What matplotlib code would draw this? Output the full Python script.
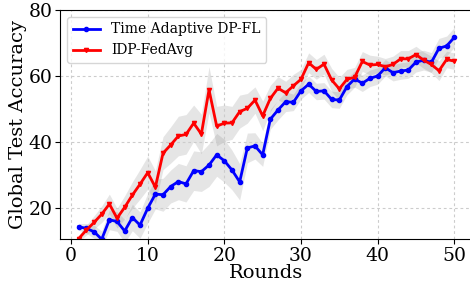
import numpy as np
import matplotlib
matplotlib.use("Agg")
import matplotlib.pyplot as plt

rounds = list(range(1, 51))

ta_dpfl = [14.3, 13.8, 12.8, 10.5, 16.4, 15.9, 13.0, 17.1, 14.8, 19.9,
           24.2, 24.0, 26.5, 28.0, 27.3, 31.3, 31.0, 33.0, 36.1, 34.3,
           31.5, 27.9, 38.2, 38.8, 36.1, 46.9, 49.7, 52.2, 52.0, 55.5,
           57.5, 55.3, 55.5, 52.9, 52.7, 56.8, 59.1, 57.8, 59.3, 60.0,
           62.5, 61.0, 61.5, 61.8, 64.2, 64.8, 64.1, 68.4, 69.1, 71.7]

idp_fedavg = [10.7, 13.3, 15.6, 18.1, 21.2, 16.9, 20.2, 23.9, 27.2, 30.7,
              26.3, 36.6, 39.1, 41.8, 42.3, 45.7, 42.4, 55.8, 44.8, 45.7,
              45.8, 49.2, 50.2, 52.7, 47.9, 53.2, 56.3, 54.9, 57.0, 59.0,
              64.0, 62.0, 63.6, 58.8, 56.1, 59.0, 59.6, 64.4, 63.3, 63.5,
              62.8, 63.5, 65.2, 65.2, 66.5, 64.8, 63.5, 61.6, 65.0, 64.5]

ta_std = [1.0, 1.5, 2.0, 2.5, 3.0, 3.0, 3.5, 4.0, 4.0, 4.5,
          4.5, 5.0, 5.0, 5.5, 5.5, 6.0, 6.0, 6.5, 6.5, 6.5,
          6.0, 5.5, 4.5, 4.0, 3.5, 3.0, 3.0, 3.0, 2.5, 2.5,
          2.5, 2.5, 2.5, 2.5, 2.5, 2.5, 2.5, 2.5, 2.5, 2.5,
          2.5, 2.5, 2.5, 2.5, 3.0, 3.0, 3.0, 3.0, 3.0, 3.0]

idp_std = [1.0, 1.5, 2.0, 2.5, 3.0, 3.0, 3.5, 4.0, 4.5, 5.0,
           5.0, 5.0, 5.5, 6.0, 6.0, 5.5, 6.0, 7.0, 6.0, 5.5,
           5.0, 5.0, 4.5, 4.0, 4.5, 4.0, 3.5, 3.5, 3.5, 3.0,
           3.0, 3.0, 3.0, 3.5, 3.5, 3.0, 3.0, 3.0, 3.0, 2.5,
           2.5, 2.5, 2.5, 2.5, 2.5, 2.5, 2.5, 3.0, 2.5, 2.5]

plt.rcParams['font.family'] = 'DejaVu Serif'

fig = plt.figure(figsize=(4.7, 2.82), dpi=100)
ax = fig.add_axes([60/470, 42.7/282, 412.7/470, 229.3/282])

x = np.array(rounds)
for y, s, color, marker, label in [
        (ta_dpfl, ta_std, 'blue', 'o', 'Time Adaptive DP-FL'),
        (idp_fedavg, idp_std, 'red', 'v', 'IDP-FedAvg')]:
    y = np.array(y); s = np.array(s)
    ax.fill_between(x, y - s, y + s, color='gray', alpha=0.2, linewidth=0)
    ax.plot(x, y, color=color, marker=marker, markersize=3, linewidth=2, label=label)

ax.set_xlim(-1.44, 52.4)
ax.set_ylim(10.5, 80)
ax.set_xticks([0, 10, 20, 30, 40, 50])
ax.set_yticks([20, 40, 60, 80])
ax.tick_params(labelsize=13.5, pad=2)
ax.grid(True, linestyle=(0, (2.5, 2.5)), color='#cccccc', linewidth=0.8)
ax.set_xlabel('Rounds', fontsize=14, labelpad=-1)
ax.set_ylabel('Global Test Accuracy', fontsize=14, labelpad=1)
ax.legend(loc='upper left', fontsize=10)

fig.savefig('out.png', dpi=100)
